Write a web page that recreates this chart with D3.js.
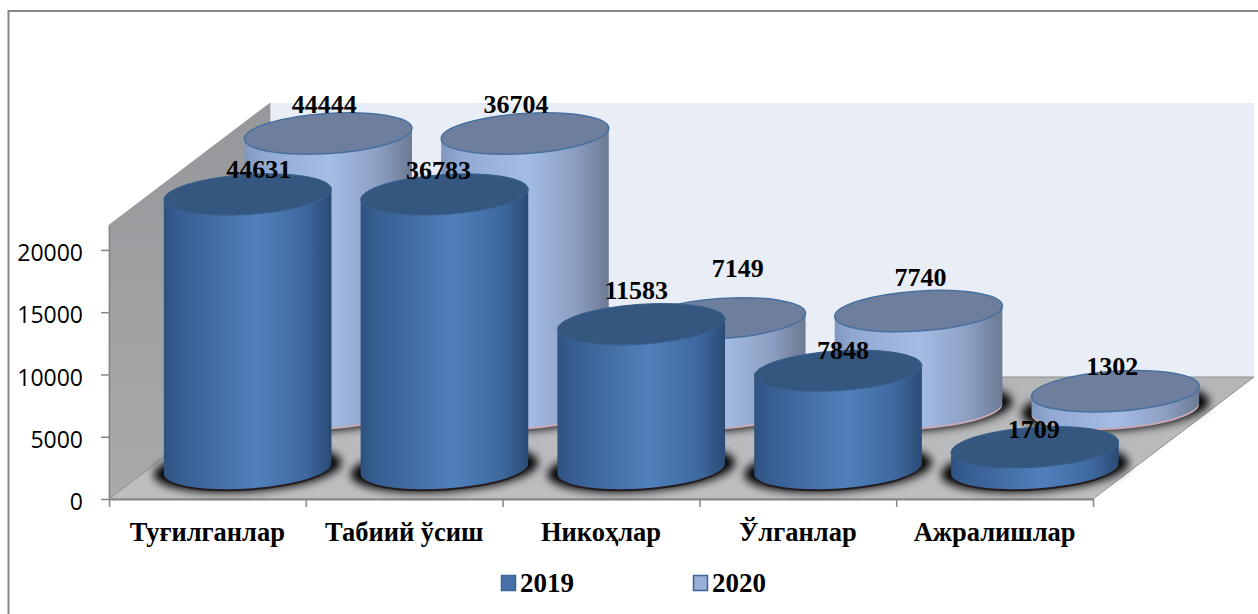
<!DOCTYPE html>
<html>
<head>
<meta charset="utf-8">
<script src="https://cdnjs.cloudflare.com/ajax/libs/d3/7.8.5/d3.min.js"></script>
<style>
  html, body { margin: 0; padding: 0; background: #ffffff; overflow: hidden; }
  svg { display: block; }
</style>
</head>
<body>
<div id="chart"></div>
<script>
const categories = ['Туғилганлар', 'Табиий ўсиш', 'Никоҳлар', 'Ўлганлар', 'Ажралишлар'];
const seriesNames = ['2019', '2020'];
const values2019 = [44631, 36783, 11583, 7848, 1709];
const values2020 = [44444, 36704, 7149, 7740, 1302];
const yTicks = [0, 5000, 10000, 15000, 20000];

const width = 1258;
const height = 614;
const SERIF = '"Liberation Serif", "Times New Roman", serif';

// 3d box corners: floor front edge, and how far the back edge is shifted
const box = { left: 109, right: 1093, front: 499, top: 225, depthX: 161, depthY: -122 };
const RX = 84;
const RY = 20;
const TILT = -3.8;  // the ellipses lean a little in the perspective

const svg = d3.select('#chart').append('svg')
    .attr('width', width)
    .attr('height', height)
    .attr('viewBox', `0 0 ${width} ${height}`);

const defs = svg.append('defs');

function addGradient(id, stops, horizontal = true) {
    const grad = defs.append('linearGradient')
        .attr('id', id)
        .attr('x1', 0).attr('y1', 0)
        .attr('x2', horizontal ? 1 : 0).attr('y2', horizontal ? 0 : 1);
    stops.forEach(([offset, color]) => {
        grad.append('stop').attr('offset', offset).attr('stop-color', color);
    });
}

addGradient('side2019', [[0, '#2e5180'], [0.08, '#365d90'], [0.55, '#5080bb'], [0.85, '#3d689d'], [1, '#2a4a74']]);
addGradient('side2020', [[0, '#8096bd'], [0.1, '#90a8d2'], [0.5, '#a5bde6'], [0.8, '#8c9fc2'], [1, '#6c7a92']]);
addGradient('wallSide', [[0, '#96979a'], [1, '#a9aaac']], false);
addGradient('floorFill', [[0, '#b4b5b7'], [1, '#bebfc1']], false);

defs.append('filter')
    .attr('id', 'baseBlur')
    .attr('x', '-20%').attr('y', '-50%').attr('width', '140%').attr('height', '200%')
    .append('feGaussianBlur')
    .attr('stdDeviation', 4);

// outer chart frame
svg.append('path')
    .attr('d', `M8.5,${height} V11 H${width}`)
    .attr('fill', 'none')
    .attr('stroke', '#868686')
    .attr('stroke-width', 2);

const y = d3.scaleLinear()
    .domain([0, 22000])
    .range([box.front, box.top])
    .clamp(true);
const xOuter = d3.scaleBand()
    .domain(categories)
    .range([box.left, box.right]);
const depth = d3.scalePoint()
    .domain(seriesNames)
    .range([0.25, 0.75]);
const xEdge = d3.scaleLinear()
    .domain([0, categories.length])
    .range([box.left, box.right]);

const dx = box.depthX;
const dy = box.depthY;

// back wall, side wall, floor
svg.append('path')
    .attr('d', `M${box.left + dx},${box.top + dy} H${box.right + dx} V${box.front + dy} H${box.left + dx} Z`)
    .attr('fill', '#e9edf6');
svg.append('path')
    .attr('d', `M${box.left},${box.top} L${box.left + dx},${box.top + dy} V${box.front + dy} L${box.left},${box.front} Z`)
    .attr('fill', 'url(#wallSide)')
    .attr('stroke', '#8d8e90')
    .attr('stroke-width', 0.5);
svg.append('path')
    .attr('d', `M${box.left},${box.front} H${box.right} L${box.right + dx},${box.front + dy} H${box.left + dx} Z`)
    .attr('fill', 'url(#floorFill)')
    .attr('stroke', '#8d8e90')
    .attr('stroke-width', 1);

// axes
const yAxis = svg.append('g')
    .attr('class', 'y-axis')
    .attr('transform', `translate(${box.left},0)`)
    .call(d3.axisLeft(y).tickValues(yTicks).tickSize(8).tickPadding(18).tickSizeOuter(0).tickFormat(d3.format('d')));
yAxis.select('.domain').attr('stroke', '#868686').attr('stroke-width', 1.5);
yAxis.selectAll('line').attr('stroke', '#868686').attr('stroke-width', 1.5);
yAxis.selectAll('text')
    .attr('fill', '#000')
    .attr('font-family', '"Open Sans", sans-serif')
    .attr('font-size', 23)
    .attr('dy', '0.46em');

const xAxis = svg.append('g')
    .attr('class', 'x-axis')
    .attr('transform', `translate(0,${box.front})`)
    .call(d3.axisBottom(xEdge).ticks(categories.length).tickSize(8).tickSizeOuter(0).tickFormat(''));
xAxis.select('.domain').attr('stroke', '#868686').attr('stroke-width', 2);
xAxis.selectAll('line').attr('stroke', '#868686').attr('stroke-width', 1.5);

svg.append('g')
    .selectAll('text')
    .data(categories)
    .join('text')
    .attr('x', (d) => xOuter(d) + xOuter.bandwidth() / 2)
    .attr('y', 541)
    .attr('text-anchor', 'middle')
    .attr('font-family', SERIF)
    .attr('font-weight', 700)
    .attr('font-size', 26.5)
    .attr('fill', '#000')
    .text((d) => d);

function ellipsePath(cx, cy) {
    const rad = TILT * Math.PI / 180;
    const ex = RX * Math.cos(rad);
    const ey = RX * Math.sin(rad);
    return `M${cx - ex},${cy - ey} A${RX},${RY} ${TILT} 1 1 ${cx + ex},${cy + ey} A${RX},${RY} ${TILT} 1 1 ${cx - ex},${cy - ey} Z`;
}

function sidePath(cx, baseY, topY) {
    const rad = TILT * Math.PI / 180;
    const ex = RX * Math.cos(rad);
    const ey = RX * Math.sin(rad);
    return `M${cx - ex},${topY - ey} L${cx - ex},${baseY - ey} A${RX},${RY} ${TILT} 0 0 ${cx + ex},${baseY + ey} L${cx + ex},${topY + ey} A${RX},${RY} ${TILT} 0 1 ${cx - ex},${topY - ey} Z`;
}

const bars2019 = categories.map((c, i) => ({ series: '2019', cat: c, value: values2019[i] }));
const bars2020 = categories.map((c, i) => ({ series: '2020', cat: c, value: values2020[i] }));

function barGeom(d) {
    const t = depth(d.series);
    const cx = xOuter(d.cat) + xOuter.bandwidth() / 2 + dx * t;
    const baseY = y(0) + dy * t;
    const topY = y(d.value) + dy * t;
    return { cx, baseY, topY };
}

// the labels were dragged by hand in the original, so they need their own offsets
const labelNudge2019 = [[11, -7], [-6, -6], [-5, -15], [5, -2], [-1, 1]];
const labelNudge2020 = [[-4, -11], [-9, -11], [16, -31], [2, -15], [-3, -6]];

function drawSeries(bars, series, topFill, topStroke, edgeColor) {
    const g = svg.append('g').attr('class', `series-${series}`);
    const sel = g.selectAll('g.bar').data(bars).join('g').attr('class', 'bar');

    // blurred contact shadow on the floor, wider than the base
    sel.append('path')
        .attr('d', (d) => { const b = barGeom(d); return ellipsePath(b.cx, b.baseY); })
        .attr('transform', (d) => { const b = barGeom(d); return `translate(${b.cx},${b.baseY}) scale(1.12,1.14) translate(${-b.cx},${-b.baseY})`; })
        .attr('fill', '#000')
        .attr('filter', 'url(#baseBlur)');
    // thin rim showing under the base
    sel.append('path')
        .attr('d', (d) => { const b = barGeom(d); return ellipsePath(b.cx, b.baseY + 2); })
        .attr('fill', edgeColor);

    sel.append('path')
        .attr('d', (d) => { const b = barGeom(d); return sidePath(b.cx, b.baseY, b.topY); })
        .attr('fill', `url(#side${series})`);
    sel.append('path')
        .attr('d', (d) => { const b = barGeom(d); return ellipsePath(b.cx, b.topY); })
        .attr('fill', topFill)
        .attr('stroke', topStroke)
        .attr('stroke-width', series === '2020' ? 1.5 : 1);
}

drawSeries(bars2020, '2020', '#6e7f9e', '#47709f', '#c8a9b6');
drawSeries(bars2019, '2019', '#34567f', '#38608f', '#241c20');

function drawLabels(bars, nudges) {
    svg.append('g')
        .selectAll('text')
        .data(bars)
        .join('text')
        .attr('x', (d, i) => barGeom(d).cx + nudges[i][0])
        .attr('y', (d, i) => barGeom(d).topY - 10 + nudges[i][1])
        .attr('text-anchor', 'middle')
        .attr('font-family', SERIF)
        .attr('font-weight', 700)
        .attr('font-size', 26)
        .attr('fill', '#000')
        .text((d) => d.value);
}
drawLabels(bars2020, labelNudge2020);
drawLabels(bars2019, labelNudge2019);

// legend
const legendX = d3.scalePoint().domain(seriesNames).range([501, 693]);
const legend = svg.append('g').attr('class', 'legend');
const legendItem = legend.selectAll('g').data(seriesNames).join('g')
    .attr('transform', (d) => `translate(${legendX(d)},575)`);
legendItem.append('rect')
    .attr('x', 0.5).attr('y', 0.5)
    .attr('width', 14).attr('height', 15)
    .attr('fill', (d) => (d === '2019' ? '#4672a8' : '#9aaed6'))
    .attr('stroke', '#3a659a')
    .attr('stroke-width', 1.5);
legendItem.append('text')
    .attr('x', 19)
    .attr('y', 17)
    .attr('font-family', SERIF)
    .attr('font-weight', 700)
    .attr('font-size', 27)
    .attr('fill', '#000')
    .text((d) => d);
</script>
</body>
</html>
